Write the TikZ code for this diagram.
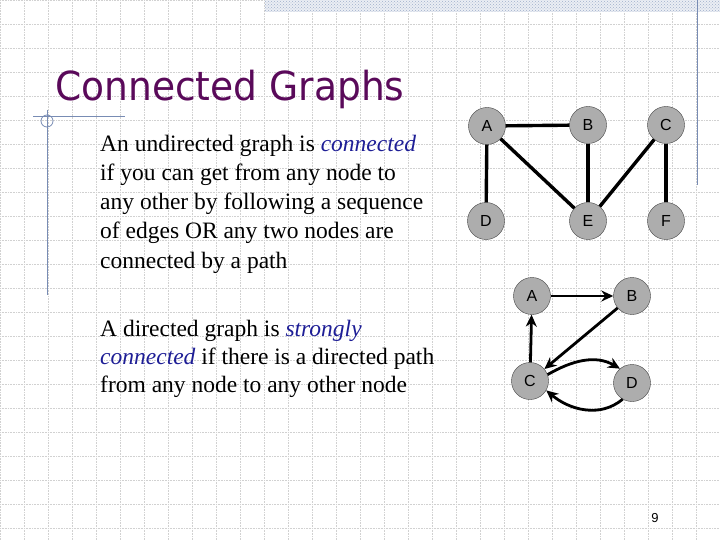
\documentclass[tikz,border=0pt]{standalone}
\usepackage{fontspec}
\setmainfont{Liberation Serif}
\newfontfamily\titlefont{DejaVu Sans}
\newfontfamily\nodefont{Liberation Sans}
\usetikzlibrary{patterns,arrows.meta}
\definecolor{ttl}{RGB}{90,10,90}
\definecolor{em}{RGB}{30,30,150}
\definecolor{deco}{RGB}{120,140,180}
\begin{document}
\begin{tikzpicture}[x=1pt,y=-1pt,
  vtx/.style={circle,draw=black!75,fill=black!32,minimum size=37pt,inner sep=0pt,font=\nodefont\fontsize{16}{16}\selectfont},
  ed/.style={line width=3.4pt},
  ar/.style={line width=2.8pt,-{Stealth[length=12pt,width=11pt]}},
  body/.style={anchor=base west,inner sep=0pt,font=\fontsize{23.5}{23.5}\selectfont}]
\useasboundingbox (0,0) rectangle (720,540);
\fill[white] (0,0) rectangle (720,540);
\foreach \i in {0,24,...,720} \draw[black!18,densely dotted,line width=0.6pt] (\i,0) -- (\i,540);
\foreach \j in {0,24,...,540} \draw[black!18,densely dotted,line width=0.6pt] (0,\j) -- (720,\j);
\fill[deco!15] (265,0) rectangle (720,12);
\fill[pattern=crosshatch dots,pattern color=deco!70] (265,0) rectangle (720,12);
\draw[deco,line width=1pt] (697,0) -- (697,185);
\draw[deco,line width=1pt] (33,117) -- (125,117);
\draw[deco,line width=1pt] (47,110) -- (47,295);
\draw[deco,line width=0.8pt] (47,121) circle (6);
\node[anchor=base west,inner sep=0pt,text=ttl,font=\titlefont\fontsize{40}{40}\selectfont,xscale=0.94] (title) at (55,101) {Connected Graphs};
\node[body] (l1) at (100,152) {An undirected graph is \textit{\textcolor{em}{connected}}};
\node[body] (l2) at (100,181) {if you can get from any node to};
\node[body] (l3) at (100,210) {any other by following a sequence};
\node[body] (l4) at (100,239) {of edges OR any two nodes are};
\node[body] (l5) at (100,268) {connected by a path};
\node[body] (m1) at (100,336) {A directed graph is \textit{\textcolor{em}{strongly}}};
\node[body] (m2) at (100,364) {\textit{\textcolor{em}{connected}} if there is a directed path};
\node[body] (m3) at (100,392) {from any node to any other node};
\node[vtx] (A) at (487,126) {A};
\node[vtx] (B) at (588,125) {B};
\node[vtx] (C) at (666,125) {C};
\node[vtx] (D) at (486,221) {D};
\node[vtx] (E) at (588,221) {E};
\node[vtx] (F) at (666,221) {F};
\draw[ed] (A) -- (B); \draw[ed] (A) -- (D); \draw[ed] (A) -- (E);
\draw[ed] (B) -- (E); \draw[ed] (C) -- (E); \draw[ed] (C) -- (F);
\node[vtx] (a) at (532,296) {A};
\node[vtx] (b) at (632,296) {B};
\node[vtx] (c) at (530,381) {C};
\node[vtx] (d) at (632,383) {D};
\draw[ar] (a) -- (b);
\draw[ar] (b) -- (c);
\draw[ar] (c) -- (a);
\draw[ar] (c.20) to[out=30,in=150] (d.130);
\draw[ar] (d.-120) to[out=-140,in=-40] (c.-30);
\node[anchor=base,font=\nodefont\fontsize{13}{13}\selectfont] (pg) at (655,522) {9};
\end{tikzpicture}
\end{document}
